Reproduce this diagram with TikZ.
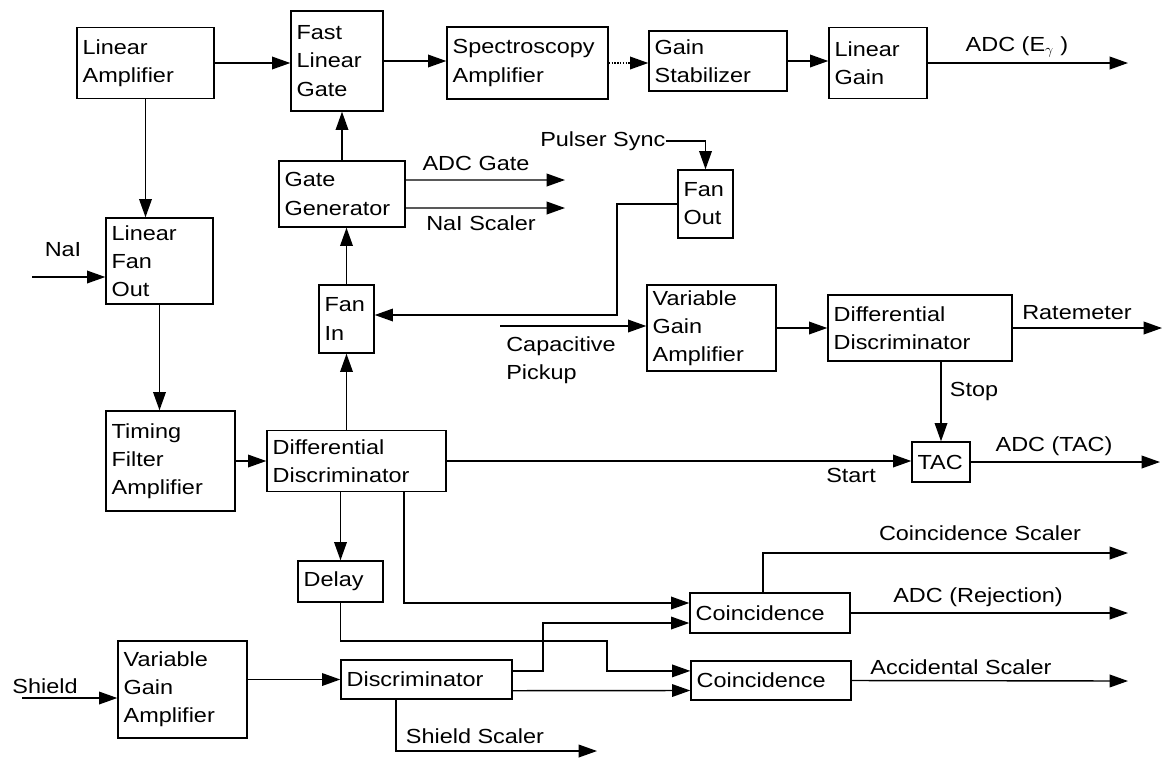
\documentclass[tikz,border=0pt]{standalone}
\usepackage{fontspec}
\setmainfont[FakeStretch=1.15]{Liberation Sans}
\usetikzlibrary{arrows.meta}
\tikzstyle{every wire} = []
\tikzstyle{wire} = [-{Triangle[length=13pt,width=9pt]}, draw, line width=1pt, every wire]
\tikzstyle{tag} = [inner sep=0pt]

\begin{document}
\begin{tikzpicture}[
		x=0.025cm,
		y=-0.025cm,
		font=\fontsize{14.5}{20}\selectfont,
		blk/.style 2 args = {
			draw,
			line width=1pt,
			align=left,
			inner xsep=4pt,
			inner ysep=2pt,
			text width=#1*0.025cm-8pt,
			minimum height=#2*0.025cm
		}
	]
	\useasboundingbox (0,0) rectangle (1169,759);

	\node[blk={137}{71}] (linamp) at (145.5,63) {Linear\\Amplifier};
	\node[blk={92}{100}] (fastgate) at (337,61) {Fast\\Linear\\Gate};
	\node[blk={161}{72}] (specamp) at (527.5,63) {Spectroscopy\\Amplifier};
	\node[blk={138}{60}] (gainstab) at (718,61) {Gain\\Stabilizer};
	\node[blk={98}{71}] (lingain) at (878,63) {Linear\\Gain};
	\node[blk={126}{66}] (gategen) at (342,194) {Gate\\Generator};
	\node[blk={55}{68}] (fanout) at (705.5,204) {Fan\\Out};
	\node[blk={107}{86}] (linfan) at (159.5,261) {Linear\\Fan\\Out};
	\node[blk={55}{68}] (fanin) at (346.5,319) {Fan\\In};
	\node[blk={129}{86}] (vgamp) at (711.5,328) {Variable\\Gain\\Amplifier};
	\node[blk={184}{66}] (diffdisc) at (920,328) {Differential\\Discriminator};
	\node[blk={129}{100}] (tfamp) at (170.5,461) {Timing\\Filter\\Amplifier};
	\node[blk={179}{61}] (ddisc) at (356.5,461) {Differential\\Discriminator};
	\node[blk={58}{40}] (tac) at (941,462) {TAC};
	\node[blk={85}{41}] (delay) at (340.5,581.5) {Delay};
	\node[blk={160}{40}] (coinc) at (770,613) {Coincidence};
	\node[blk={160}{39}] (acccoinc) at (771,680.5) {Coincidence};
	\node[blk={129}{97}] (shieldamp) at (182.5,689.5) {Variable\\Gain\\Amplifier};
	\node[blk={171}{39}] (shielddisc) at (426.5,679.5) {Discriminator};

	\node[tag] (nai) at (63,250) {NaI};
	\node[tag] (adcgatelbl) at (476,163) {ADC Gate};
	\node[tag] (naiscalerlbl) at (481,223) {NaI Scaler};
	\node[tag, anchor=west] (pulser) at (540,141) {Pulser Sync};
	\node[tag, anchor=west, align=left] (pickuplbl) at (506,360) {Capacitive\\Pickup};
	\node[tag] (ratelbl) at (1077,313) {Ratemeter};
	\node[tag] (stoplbl) at (974,391) {Stop};
	\node[tag] (startlbl) at (851,475) {Start};
	\node[tag] (adctaclbl) at (1054,446) {ADC (TAC)};
	\node[tag] (adcelbl) at (1017,47) {ADC (E$_\gamma$ )};
	\node[tag] (cscalerlbl) at (980,533) {Coincidence Scaler};
	\node[tag] (adcrejlbl) at (978,597) {ADC (Rejection)};
	\node[tag] (acclbl) at (961,667) {Accidental Scaler};
	\node[tag] (shieldlbl) at (45,686) {Shield};
	\node[tag] (sscalerlbl) at (475,736) {Shield Scaler};

	\coordinate (naiin) at (32,277);
	\coordinate (adce) at (1128,63);
	\coordinate (adcgate) at (565,180);
	\coordinate (naiscaler) at (565,208);
	\coordinate (fojoin) at (617,315);
	\coordinate (pickup) at (500,326);
	\coordinate (ratemeter) at (1162,328);
	\coordinate (adctac) at (1160,462);
	\coordinate (cscaler) at (1128,553);
	\coordinate (adcrej) at (1128,613);
	\coordinate (accscaler) at (1128,681);
	\coordinate (dbend) at (607,641);
	\coordinate (djog) at (543,650);
	\coordinate (shieldin) at (22,698);
	\coordinate (sscaler) at (597,751);

	\draw[wire] (linamp.east) -- (linamp.east -| fastgate.west);
	\draw[wire] (fastgate.east) -- (fastgate.east -| specamp.west);
	\draw[wire, densely dotted] (specamp.east) -- (specamp.east -| gainstab.west);
	\draw[wire] (gainstab.east) -- (gainstab.east -| lingain.west);
	\draw[wire] (lingain.east) -- (adce);
	\draw[wire] (linamp.south) -- (linamp.south |- linfan.north);
	\draw[wire] (naiin) -- (naiin -| linfan.west);
	\draw[wire] (linfan.south) -- (linfan.south |- tfamp.north);
	\draw[wire] (tfamp.east) -- (tfamp.east -| ddisc.west);
	\draw[wire] (fanin.south |- ddisc.north) -- (fanin.south);
	\draw[wire] (fanin.north) -- (fanin.north |- gategen.south);
	\draw[wire] (gategen.north) -- (gategen.north |- fastgate.south);
	\draw[wire] ([yshift=0.35cm]gategen.east) -- (adcgate);
	\draw[wire] ([yshift=-0.35cm]gategen.east) -- (naiscaler);
	\draw[wire] (pulser.east) -| (fanout.north);
	\draw[wire] (fanout.west) -| (fojoin) -- (fojoin -| fanin.east);
	\draw[wire] (pickup) -- (pickup -| vgamp.west);
	\draw[wire] (vgamp.east) -- (vgamp.east -| diffdisc.west);
	\draw[wire] (diffdisc.east) -- (ratemeter);
	\draw[wire] (tac.north |- diffdisc.south) -- (tac.north);
	\draw[wire] (ddisc.east) -- (ddisc.east -| tac.west);
	\draw[wire] (tac.east) -- (adctac);
	\draw[wire] (ddisc.south -| delay.north) -- (delay.north);
	\draw[wire] ([xshift=1.19cm]ddisc.south) |- ([yshift=0.25cm]coinc.west);
	\draw[wire] (delay.south) |- (dbend) |- ([yshift=0.24cm]acccoinc.west);
	\draw[wire] ([xshift=-0.18cm]coinc.north) |- (cscaler);
	\draw[wire] (coinc.east) -- (adcrej);
	\draw[wire] (acccoinc.east) -- (accscaler);
	\draw[wire] (shieldin) -- (shieldin -| shieldamp.west);
	\draw[wire] (shieldamp.east |- shielddisc.west) -- (shielddisc.west);
	\draw[wire] ([yshift=0.21cm]shielddisc.east) -| (djog) |- ([yshift=-0.25cm]coinc.west);
	\draw[wire] ([yshift=-0.28cm]shielddisc.east) -- ([yshift=-0.25cm]acccoinc.west);
	\draw[wire] ([xshift=-0.76cm]shielddisc.south) |- (sscaler);
\end{tikzpicture}
\end{document}
